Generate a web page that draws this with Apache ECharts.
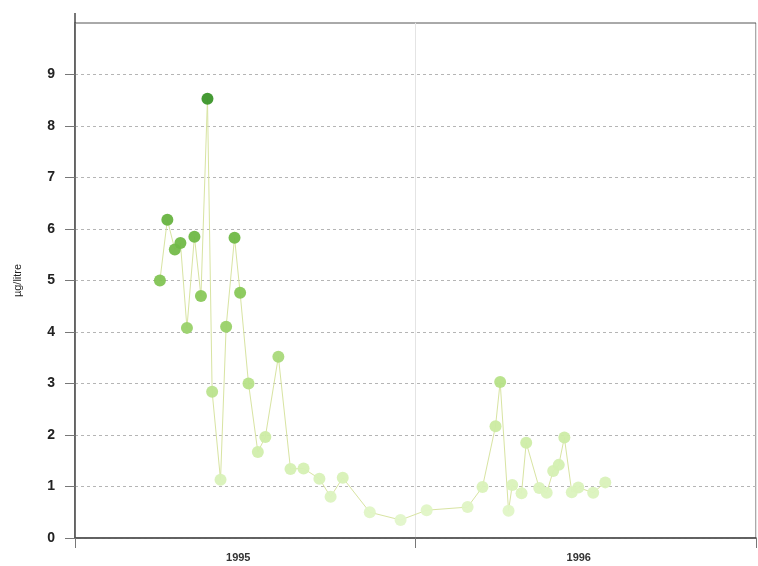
<!DOCTYPE html>
<html>
<head>
<meta charset="utf-8">
<script src="https://cdn.jsdelivr.net/npm/echarts@6/dist/echarts.min.js"></script>
<style>
  html, body { margin: 0; padding: 0; background: #fff; }
  #chart { width: 758px; height: 566px; }
</style>
</head>
<body>
<div id="chart"></div>
<script>
// Sampling dates and measured concentrations (µg/litre)
const sampleDates = [
  '1995-04-02', '1995-04-10', '1995-04-18', '1995-04-24', '1995-05-01', '1995-05-09',
  '1995-05-16', '1995-05-23', '1995-05-28', '1995-06-06', '1995-06-12', '1995-06-21',
  '1995-06-27', '1995-07-06', '1995-07-16', '1995-07-24', '1995-08-07', '1995-08-20',
  '1995-09-03', '1995-09-20', '1995-10-02', '1995-10-15', '1995-11-13', '1995-12-16',
  '1996-01-13', '1996-02-26', '1996-03-13', '1996-03-27', '1996-04-01', '1996-04-10',
  '1996-04-14', '1996-04-24', '1996-04-29', '1996-05-13', '1996-05-21', '1996-05-28',
  '1996-06-03', '1996-06-09', '1996-06-17', '1996-06-24', '1996-07-10', '1996-07-23'
];
const concentrations = [
  5.0, 6.18, 5.6, 5.73, 4.08, 5.85,
  4.7, 8.53, 2.84, 1.13, 4.1, 5.83,
  4.76, 3.0, 1.67, 1.96, 3.52, 1.34,
  1.35, 1.15, 0.8, 1.17, 0.5, 0.35,
  0.54, 0.6, 0.99, 2.17, 3.03, 0.53,
  1.03, 0.87, 1.85, 0.97, 0.88, 1.3,
  1.42, 1.95, 0.89, 0.98, 0.88, 1.08
];
const yearLabels = ['1995', '1996'];
const yTicks = [0, 1, 2, 3, 4, 5, 6, 7, 8, 9];

// Convert an ISO date into a fractional year for the value axis
function toYearFraction(iso) {
  const d = new Date(iso + 'T00:00:00Z');
  const y = d.getUTCFullYear();
  const start = Date.UTC(y, 0, 1);
  const end = Date.UTC(y + 1, 0, 1);
  return y + (d.getTime() - start) / (end - start);
}

const points = sampleDates.map((d, i) => [toYearFraction(d), concentrations[i]]);

const chart = echarts.init(document.getElementById('chart'));
const axisColor = '#4a4a4a';

chart.setOption({
  animation: false,
  backgroundColor: '#fff',
  grid: {
    left: 75, top: 23, right: 2, bottom: 28,
    show: true, borderColor: '#555', borderWidth: 1
  },
  xAxis: [
    {
      type: 'value',
      min: 1995, max: 1997, interval: 1,
      axisLine: { onZero: false, lineStyle: { color: axisColor, width: 1.5 } },
      axisTick: { show: true, length: 10, lineStyle: { color: '#777' } },
      axisLabel: { show: false },
      splitLine: { show: true, lineStyle: { color: '#e4e4e4', width: 1 } }
    },
    {
      type: 'category',
      data: yearLabels,
      position: 'bottom',
      boundaryGap: true,
      axisLine: { show: false },
      axisTick: { show: false },
      axisLabel: {
        margin: 14, fontSize: 11, fontWeight: 'bold', padding: [0, 14, 0, 0],
        fontFamily: 'Liberation Sans, Arial, sans-serif', color: '#333'
      },
      splitLine: { show: false }
    }
  ],
  yAxis: {
    type: 'value',
    min: 0, max: 10, interval: 1,
    name: 'µg/litre',
    nameLocation: 'middle',
    nameRotate: 90,
    nameGap: 52,
    nameTextStyle: { fontSize: 11, color: '#222', fontFamily: 'Liberation Sans, Arial, sans-serif' },
    axisLine: { show: true, lineStyle: { color: axisColor, width: 1.5 } },
    axisTick: { show: true, length: 10, customValues: yTicks, lineStyle: { color: '#777' } },
    axisLabel: {
      margin: 20, fontSize: 14, fontWeight: 'bold', color: '#222',
      fontFamily: 'Liberation Sans, Arial, sans-serif',
      customValues: yTicks
    },
    splitLine: { show: true, lineStyle: { color: '#b5b5b5', type: [3, 3], width: 1 } }
  },
  visualMap: {
    type: 'continuous',
    show: false,
    seriesIndex: 1,
    dimension: 1,
    min: 0.3, max: 8.6,
    inRange: { color: ['#e3f6cb', '#c8ea9c', '#8fcc5e', '#5fae3a', '#3a9428'] }
  },
  series: [
    {
      type: 'line',
      data: points,
      showSymbol: false,
      lineStyle: { color: '#d8e4a2', width: 1 },
      z: 2
    },
    {
      type: 'scatter',
      data: points,
      symbolSize: 12,
      itemStyle: { opacity: 0.95 },
      z: 3
    }
  ]
});

// Extend the left axis line slightly above the frame
const topLeft = chart.convertToPixel({ xAxisIndex: 0, yAxisIndex: 0 }, [1995, 10]);
chart.setOption({
  graphic: [{
    type: 'line',
    shape: { x1: topLeft[0], y1: topLeft[1] - 10, x2: topLeft[0], y2: topLeft[1] },
    style: { stroke: axisColor, lineWidth: 1.5 }
  }]
});
</script>
</body>
</html>
